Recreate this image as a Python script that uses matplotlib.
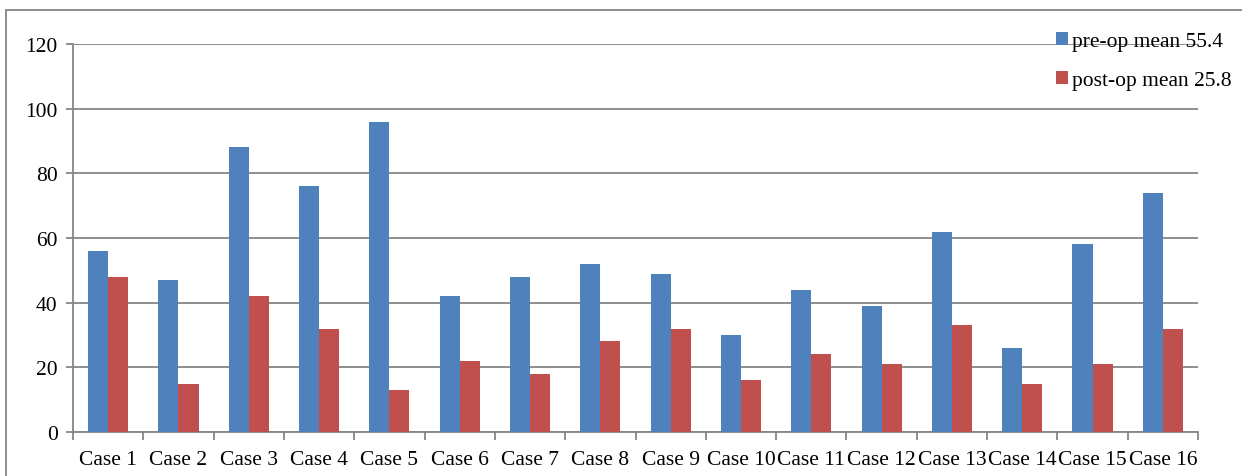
import matplotlib
matplotlib.use("Agg")
import matplotlib.pyplot as plt
import numpy as np
from matplotlib.lines import Line2D

cases = [f"Case {i}" for i in range(1, 17)]
pre_op = [56, 47, 88, 76, 96, 42, 48, 52, 49, 30, 44, 39, 62, 26, 58, 74]
post_op = [48, 15, 42, 32, 13, 22, 18, 28, 32, 16, 24, 21, 33, 15, 21, 32]
series_labels = ["pre-op mean 55.4", "post-op mean 25.8"]
y_ticks = [0, 20, 40, 60, 80, 100, 120]

plt.rcParams["font.family"] = ["Liberation Serif", "DejaVu Serif"]
plt.rcParams["font.size"] = 15.5

W, H = 1242, 477
fig = plt.figure(figsize=(W / 100, H / 100), dpi=100)
ax = fig.add_axes([73 / W, 1 - 433 / H, (1198 - 73) / W, (433 - 45) / H])

grey = "#868686"
x = np.arange(len(cases))
bw = 0.285
ax.bar(x - bw / 2, pre_op, bw, color="#4F81BD", label=series_labels[0], zorder=3)
ax.bar(x + bw / 2, post_op, bw, color="#C0504D", label=series_labels[1], zorder=3)

ax.set_xlim(-0.5, len(cases) - 0.5)
ax.set_ylim(0, 120)
ax.set_yticks(y_ticks)
ax.yaxis.grid(True, color=grey, linewidth=1.3, zorder=0)
ax.set_axisbelow(True)

# Category labels centered; tick marks at category boundaries
ax.set_xticks(x)
ax.set_xticklabels(cases)
ax.tick_params(axis="x", length=0, pad=13, labelsize=15.5, colors="black")
ax.set_xticks(np.arange(-0.5, len(cases), 1.0), minor=True)
ax.tick_params(axis="x", which="minor", length=6, width=1.3, color=grey)
ax.tick_params(axis="y", length=5, width=1.3, color=grey, pad=6, labelsize=15.5)

for s in ["top", "right"]:
    ax.spines[s].set_visible(False)
for s in ["left", "bottom"]:
    ax.spines[s].set_color(grey)
    ax.spines[s].set_linewidth(1.3)

leg = ax.legend(loc="upper left", bbox_to_anchor=(1045 / W, 1 - 22 / H),
                bbox_transform=fig.transFigure, frameon=False,
                handlelength=0.55, handleheight=0.55, handletextpad=0.2,
                labelspacing=0.95, fontsize=15.5, borderpad=0)

# Outer chart frame
fig.add_artist(Line2D([6 / W, 1.0], [1 - 11 / H, 1 - 11 / H],
                      transform=fig.transFigure, color=grey, linewidth=1.3))
fig.add_artist(Line2D([6 / W, 6 / W], [0, 1 - 11 / H],
                      transform=fig.transFigure, color=grey, linewidth=1.3))

fig.savefig("out.png", dpi=100)
